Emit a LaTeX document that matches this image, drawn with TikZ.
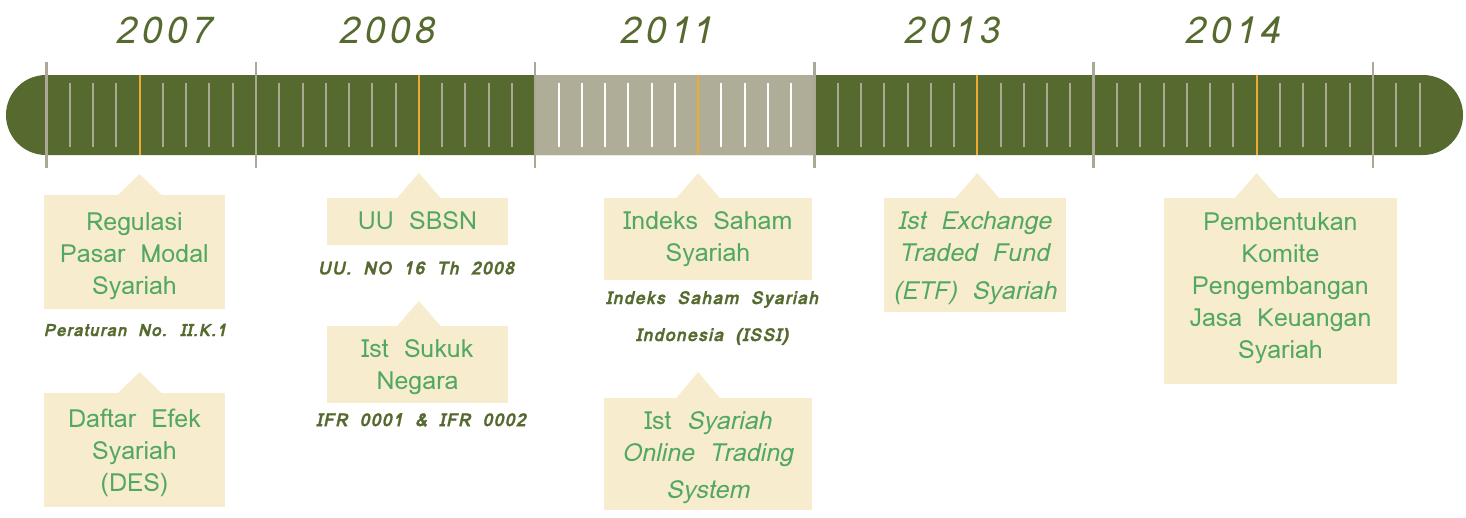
\documentclass[tikz,border=0pt]{standalone}
\usepackage{fontspec}
\setmainfont{Loma}
\newfontfamily\labelfont[WordSpace=1.8]{Loma}
\newfontfamily\yearfont[LetterSpace=12]{Loma}
\newfontfamily\notefont[LetterSpace=6,WordSpace=1.7,FakeBold=1.2]{Loma}
\usetikzlibrary{calc}

\definecolor{bargreen}{RGB}{86,106,48}
\definecolor{barstone}{RGB}{175,172,152}
\definecolor{tickgray}{RGB}{172,168,150}
\definecolor{markorange}{RGB}{240,170,50}
\definecolor{boxfill}{RGB}{247,236,205}
\definecolor{boxtext}{RGB}{82,168,98}
\definecolor{yeartext}{RGB}{86,106,48}

% pointer triangle on top of a callout box, apex at the given coordinate
\newcommand\tippointer[2]{%
  \fill[boxfill] ($(#1.north -| #2)+(-22,0.5)$) -- (#2) -- ($(#1.north -| #2)+(22,0.5)$) -- cycle;}
% centred lines of a callout, moved down by #1 without changing the box size
\newcommand\calloutlines[2]{%
  \raisebox{-#1}[\height][\depth]{\begin{tabular}{@{}c@{}}#2\end{tabular}}}

\begin{document}
\begin{tikzpicture}[x=1pt,y=-1pt,
  minortick/.style={line width=2pt,tickgray},
  majortick/.style={line width=2.5pt,tickgray},
  marktick/.style={line width=2pt,markorange},
  yearlabel/.style={text=yeartext,inner sep=0pt,font=\yearfont\itshape\fontsize{37}{40}\selectfont},
  callout/.style={fill=boxfill,text=boxtext,inner sep=0pt,
    font=\labelfont\fontsize{25}{32}\selectfont},
  note/.style={text=yeartext,inner sep=0pt,align=center,
    font=\notefont\bfseries\itshape\fontsize{18}{37}\selectfont}]
\useasboundingbox (0,0) rectangle (1466,517);

% timeline bar
\fill[bargreen,rounded corners=40pt] (6,75) rectangle (1463,155);
\fill[barstone] (535.2,75) rectangle (814.5,155);

% tick marks: every 12th is a year boundary, 7 after it the year marker
\foreach \k in {-9,...,50}{
  \pgfmathtruncatemacro\m{mod(\k+24,12)}
  \pgfmathsetmacro\xx{256+\k*23.27}
  \ifnum\k=-9 \def\m{0}\fi
  \ifnum\m=0
    \draw[majortick] (\xx,62) -- (\xx,168);
  \else\ifnum\m=7
    \draw[marktick] (\xx,75) -- (\xx,155);
  \else
    \ifnum\k>12 \ifnum\k<24
      \draw[minortick,white] (\xx,83) -- (\xx,147);
    \else
      \draw[minortick] (\xx,83) -- (\xx,147);
    \fi\else
      \draw[minortick] (\xx,83) -- (\xx,147);
    \fi
  \fi\fi
}

% year markers on the bar
\coordinate (m2007) at (139.65,155);
\coordinate (m2008) at (418.89,155);
\coordinate (m2011) at (698.13,155);
\coordinate (m2013) at (977.37,155);
\coordinate (m2014) at (1256.61,155);

% year labels
\node[yearlabel] (y2007) at (163,30) {2007};
\node[yearlabel] (y2008) at (386,30) {2008};
\node[yearlabel] (y2011) at (666,30) {2011};
\node[yearlabel] (y2013) at (951,30) {2013};
\node[yearlabel] (y2014) at (1232,30) {2014};

% callout boxes
\node[callout,minimum width=181,minimum height=114] (reg) at (134.5,252)
  {\calloutlines{4pt}{Regulasi\\Pasar Modal\\Syariah}};
\node[callout,minimum width=181,minimum height=114] (des) at (134.5,450)
  {\calloutlines{3.5pt}{Daftar Efek\\Syariah\\(DES)}};
\node[callout,minimum width=181,minimum height=47] (sbsn) at (417.5,221.5)
  {\calloutlines{2pt}{UU SBSN}};
\node[callout,minimum width=181,minimum height=77] (sukuk) at (417.5,364.5)
  {\calloutlines{3pt}{Ist Sukuk\\Negara}};
\node[callout,minimum width=208,minimum height=82] (issi) at (708,239)
  {\calloutlines{0pt}{Indeks Saham\\Syariah}};
\node[callout,minimum width=208,minimum height=112] (sots) at (708,454)
  {\calloutlines{3.5pt}{Ist \textit{Syariah}\\\textit{Online Trading}\\[5pt]\textit{System}}};
\node[callout,minimum width=182,minimum height=114] (etf) at (975,255)
  {\calloutlines{3pt}{\textit{Ist Exchange}\\\textit{Traded Fund}\\[6pt]\textit{(ETF) Syariah}}};
\node[callout,minimum width=233,minimum height=186] (kpjk) at (1280.5,291)
  {\calloutlines{-3pt}{Pembentukan\\Komite\\Pengembangan\\Jasa Keuangan\\Syariah}};

% pointer apexes
\coordinate (a-reg) at (m2007 |- 0,174);
\coordinate (a-des) at (m2007 |- 0,372);
\coordinate (a-sbsn) at (m2008 |- 0,173);
\coordinate (a-sukuk) at (m2008 |- 0,301);
\coordinate (a-issi) at (m2011 |- 0,173);
\coordinate (a-sots) at (m2011 |- 0,372);
\coordinate (a-etf) at (m2013 |- 0,173);
\coordinate (a-kpjk) at (m2014 |- 0,173);
\tippointer{reg}{a-reg}
\tippointer{des}{a-des}
\tippointer{sbsn}{a-sbsn}
\tippointer{sukuk}{a-sukuk}
\tippointer{issi}{a-issi}
\tippointer{sots}{a-sots}
\tippointer{etf}{a-etf}
\tippointer{kpjk}{a-kpjk}

% notes under the boxes
\node[note,font=\notefont\bfseries\itshape\fontsize{17}{37}\selectfont] (n-reg) at (135,330) {Peraturan No. II.K.1};
\node[note] (n-sbsn) at (416,268) {UU. NO 16 Th 2008};
\node[note] (n-sukuk) at (421,420) {IFR 0001 \& IFR 0002};
\node[note] (n-issi) at (712,318) {Indeks Saham Syariah\\Indonesia (ISSI)};
\end{tikzpicture}
\end{document}
